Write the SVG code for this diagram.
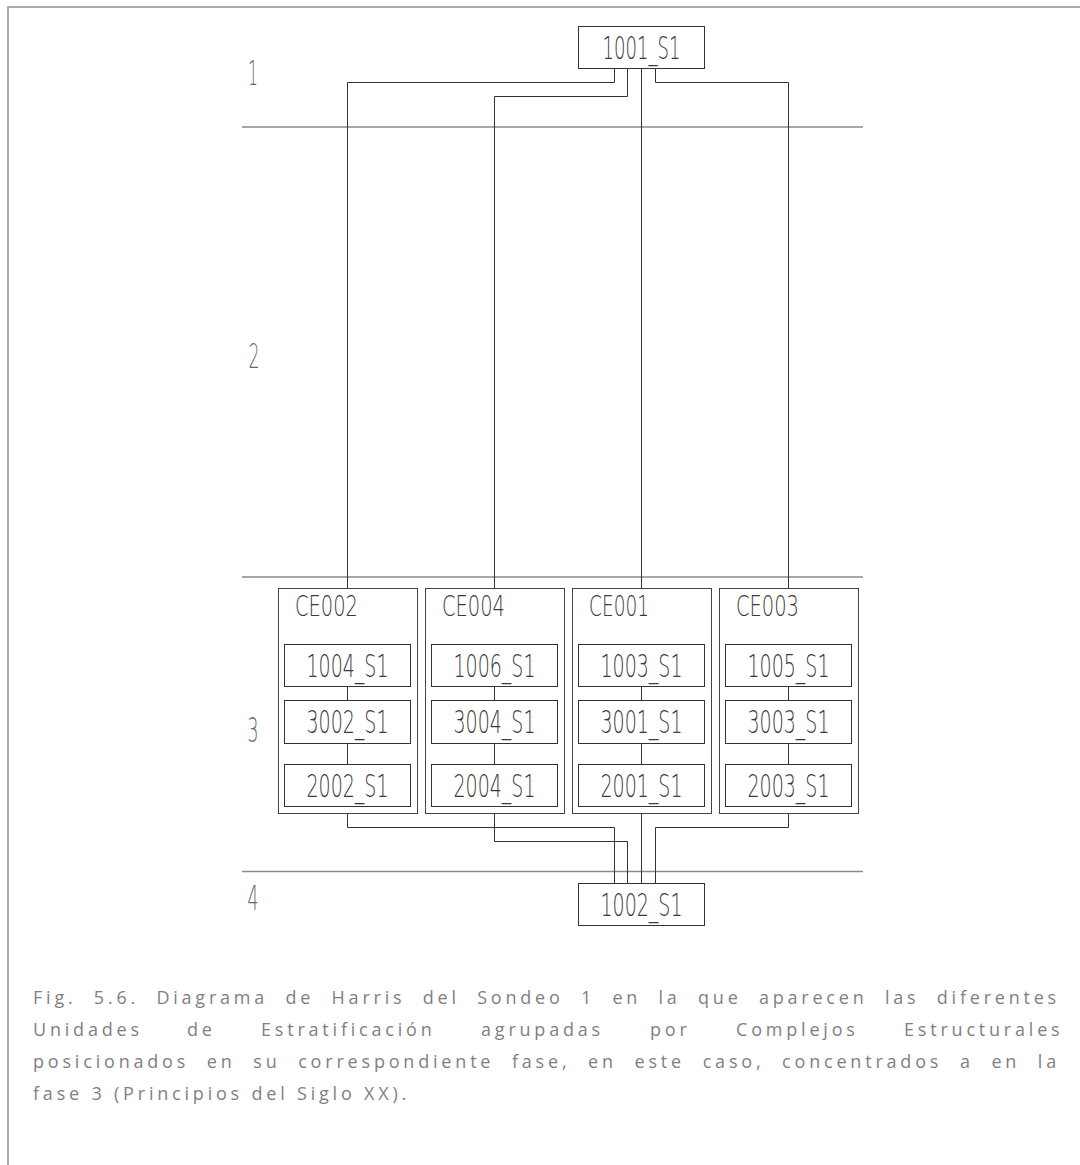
<svg xmlns="http://www.w3.org/2000/svg" width="1080" height="1165" viewBox="0 0 1080 1165">
<style>
.frame{fill:none;stroke:#aaaaaa;stroke-width:2}
.phase{fill:none;stroke:#8a8a8a;stroke-width:1.5}
.box{fill:#ffffff;stroke:#333333;stroke-width:1}
.ce{fill:none;stroke:#444444;stroke-width:1}
.con{fill:none;stroke:#333333;stroke-width:1}
.cad{font-family:"DejaVu Sans","Liberation Sans",sans-serif;font-weight:200;fill:#3a3a3a}
.lbl{font-size:32px;text-anchor:middle}
.cel{font-size:29px}
.ph{font-family:"DejaVu Sans","Liberation Sans",sans-serif;font-weight:200;font-size:33px;fill:#666666}
.cap{font-family:"Open Sans","Liberation Sans",sans-serif;font-size:18px;fill:#7f7f7f;letter-spacing:3.8px}
</style>
<rect width="1080" height="1165" fill="#ffffff"/>
<path class="frame" d="M8 1165 V7 H1080"/>
<g id="phases">
<line class="phase" x1="242" y1="127" x2="863" y2="127"/>
<line class="phase" x1="242" y1="577" x2="863" y2="577"/>
<line class="phase" x1="242" y1="871.5" x2="863" y2="871.5"/>
<text class="ph" x="253" y="85" text-anchor="middle" textLength="10" lengthAdjust="spacingAndGlyphs">1</text>
<text class="ph" x="254" y="368" text-anchor="middle" textLength="11" lengthAdjust="spacingAndGlyphs">2</text>
<text class="ph" x="253" y="742" text-anchor="middle" textLength="11" lengthAdjust="spacingAndGlyphs">3</text>
<text class="ph" x="253" y="910" text-anchor="middle" textLength="11" lengthAdjust="spacingAndGlyphs">4</text>
</g>
<g id="connectors">
<path class="con" d="M614.5 68.5 V82.5 H347.5 V588.5"/>
<path class="con" d="M627.5 68.5 V96.5 H494.5 V588.5"/>
<path class="con" d="M641.5 68.5 V588.5"/>
<path class="con" d="M655.5 68.5 V82.5 H788.5 V588.5"/>
<path class="con" d="M347.5 813.5 V827.5 H614.5 V883.5"/>
<path class="con" d="M494.5 813.5 V841.5 H627.5 V883.5"/>
<path class="con" d="M641.5 813.5 V883.5"/>
<path class="con" d="M788.5 813.5 V827.5 H655.5 V883.5"/>
<path class="con" d="M347.5 686.5 V700.5 M347.5 743.5 V764.5"/>
<path class="con" d="M494.5 686.5 V700.5 M494.5 743.5 V764.5"/>
<path class="con" d="M641.5 686.5 V700.5 M641.5 743.5 V764.5"/>
<path class="con" d="M788.5 686.5 V700.5 M788.5 743.5 V764.5"/>
</g>
<g id="n1001_S1">
<rect class="box" x="578.5" y="26.5" width="126" height="42"/>
<text class="cad lbl" x="641.5" y="59" textLength="78" lengthAdjust="spacingAndGlyphs">1001_S1</text>
</g>
<g id="CE002">
<rect class="ce" x="278.5" y="588.5" width="139" height="225"/>
<text class="cad cel" x="295" y="616" textLength="63" lengthAdjust="spacingAndGlyphs">CE002</text>
<g id="n1004_S1"><rect class="box" x="284.5" y="644.5" width="126" height="42"/><text class="cad lbl" x="347.5" y="676.5" textLength="82" lengthAdjust="spacingAndGlyphs">1004_S1</text></g>
<g id="n3002_S1"><rect class="box" x="284.5" y="700.5" width="126" height="43"/><text class="cad lbl" x="347.5" y="733" textLength="82" lengthAdjust="spacingAndGlyphs">3002_S1</text></g>
<g id="n2002_S1"><rect class="box" x="284.5" y="764.5" width="126" height="42"/><text class="cad lbl" x="347.5" y="796.5" textLength="82" lengthAdjust="spacingAndGlyphs">2002_S1</text></g>
</g>
<g id="CE004">
<rect class="ce" x="425.5" y="588.5" width="139" height="225"/>
<text class="cad cel" x="442" y="616" textLength="63" lengthAdjust="spacingAndGlyphs">CE004</text>
<g id="n1006_S1"><rect class="box" x="431.5" y="644.5" width="126" height="42"/><text class="cad lbl" x="494.5" y="676.5" textLength="82" lengthAdjust="spacingAndGlyphs">1006_S1</text></g>
<g id="n3004_S1"><rect class="box" x="431.5" y="700.5" width="126" height="43"/><text class="cad lbl" x="494.5" y="733" textLength="82" lengthAdjust="spacingAndGlyphs">3004_S1</text></g>
<g id="n2004_S1"><rect class="box" x="431.5" y="764.5" width="126" height="42"/><text class="cad lbl" x="494.5" y="796.5" textLength="82" lengthAdjust="spacingAndGlyphs">2004_S1</text></g>
</g>
<g id="CE001">
<rect class="ce" x="572.5" y="588.5" width="139" height="225"/>
<text class="cad cel" x="589" y="616" textLength="60" lengthAdjust="spacingAndGlyphs">CE001</text>
<g id="n1003_S1"><rect class="box" x="578.5" y="644.5" width="126" height="42"/><text class="cad lbl" x="641.5" y="676.5" textLength="82" lengthAdjust="spacingAndGlyphs">1003_S1</text></g>
<g id="n3001_S1"><rect class="box" x="578.5" y="700.5" width="126" height="43"/><text class="cad lbl" x="641.5" y="733" textLength="82" lengthAdjust="spacingAndGlyphs">3001_S1</text></g>
<g id="n2001_S1"><rect class="box" x="578.5" y="764.5" width="126" height="42"/><text class="cad lbl" x="641.5" y="796.5" textLength="82" lengthAdjust="spacingAndGlyphs">2001_S1</text></g>
</g>
<g id="CE003">
<rect class="ce" x="719.5" y="588.5" width="139" height="225"/>
<text class="cad cel" x="736" y="616" textLength="63" lengthAdjust="spacingAndGlyphs">CE003</text>
<g id="n1005_S1"><rect class="box" x="725.5" y="644.5" width="126" height="42"/><text class="cad lbl" x="788.5" y="676.5" textLength="82" lengthAdjust="spacingAndGlyphs">1005_S1</text></g>
<g id="n3003_S1"><rect class="box" x="725.5" y="700.5" width="126" height="43"/><text class="cad lbl" x="788.5" y="733" textLength="82" lengthAdjust="spacingAndGlyphs">3003_S1</text></g>
<g id="n2003_S1"><rect class="box" x="725.5" y="764.5" width="126" height="42"/><text class="cad lbl" x="788.5" y="796.5" textLength="82" lengthAdjust="spacingAndGlyphs">2003_S1</text></g>
</g>
<g id="n1002_S1">
<rect class="box" x="578.5" y="883.5" width="126" height="42"/>
<text class="cad lbl" x="641.5" y="915.5" textLength="82" lengthAdjust="spacingAndGlyphs">1002_S1</text>
</g>
<g id="caption" class="cap">
<text x="33" y="1004" word-spacing="8.9" textLength="1027" lengthAdjust="spacing">Fig. 5.6. Diagrama de Harris del Sondeo 1 en la que aparecen las diferentes</text>
<text x="33" y="1036">Unidades</text>
<text x="187" y="1036">de</text>
<text x="261" y="1036">Estratificación</text>
<text x="481" y="1036">agrupadas</text>
<text x="650" y="1036">por</text>
<text x="736" y="1036">Complejos</text>
<text x="904" y="1036">Estructurales</text>
<text x="33" y="1068" word-spacing="9.2" textLength="1027" lengthAdjust="spacing">posicionados en su correspondiente fase, en este caso, concentrados a en la</text>
<text x="33" y="1100">fase 3 (Principios del Siglo XX).</text>
</g>
</svg>
